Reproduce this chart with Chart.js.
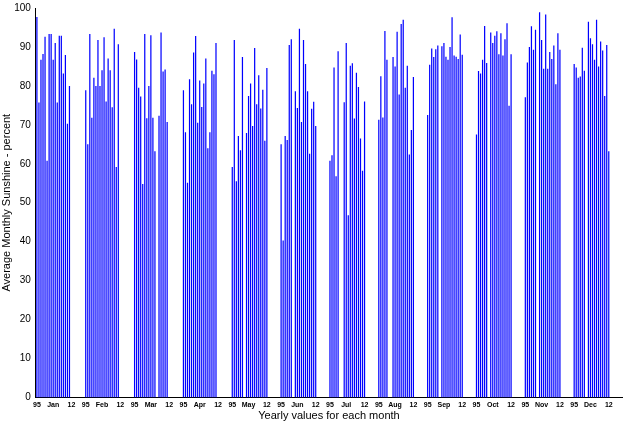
<!DOCTYPE html>
<html>
<head>
<meta charset="utf-8">
<script src="https://cdn.jsdelivr.net/npm/chart.js@4"></script>
<style>body{margin:0;background:#fff}</style>
</head>
<body>
<canvas id="c" width="632" height="423"></canvas>
<script>
const months = ['Jan','Feb','Mar','Apr','May','Jun','Jul','Aug','Sep','Oct','Nov','Dec']
const firstYear = '95'
const lastYear = '12'
// sunshine percent per month, years 1995..2012 (null = no value)
const jan = [97.7,75.7,86.7,88.2,92.6,60.8,93.3,93.3,86.7,91,75.7,92.9,92.9,83.2,87.9,70.3,80,null]
const feb = [78.9,65,93.3,71.8,82.1,80,91.8,80,84,92.5,76,87,84,74.5,94.7,59.2,90.7,null]
const mar = [88.7,86.8,79.5,77.3,54.8,93.3,71.7,80,93,71.8,63.2,null,72.3,93.7,83.7,84.2,70.7,null]
const apr = [78.9,68.1,55.1,81.7,75.3,88.6,92.8,70.5,81.4,74.6,80.6,87,64,68.1,83.9,83,91,null]
const may = [59.2,91.8,55.5,67.1,63.5,87.4,null,67.9,77.4,80.6,69.7,89.7,75.3,82.7,74.2,79,65.9,84.6]
const jun = [65,40.3,67.1,66.1,90.5,92,null,78.6,74.3,94.7,70.7,91.8,85.6,78.6,62.6,74.1,75.9,69.7]
const jul = [60.8,62.2,84.7,56.8,88.9,null,null,75.8,91,46.8,85.2,85.8,71.6,83.4,79.7,66.5,58.2,76]
const aug = [71.3,82.5,71.9,94.1,86.7,null,null,87.4,85,93.9,77.8,95.9,97,79.5,85.2,62.4,68.7,82.3]
const sep = [72.5,85.4,89.6,87.4,89.4,90.4,null,90.2,91,87.5,86.7,90,97.6,87.8,87.5,86.9,93.2,88]
const oct = [67.5,83.8,83.2,86.7,95.4,85.9,null,93.7,91,92.9,94,88.1,93.5,87.8,92,96.1,74.9,88.1]
const nov = [77.1,86,90,95.3,89.3,94.4,null,98.9,91.8,84.4,98.3,84.4,88.7,86.9,90.4,80.4,93.5,89.3]
const dec = [85.6,84.7,82.1,82.4,89.8,83.9,null,96.5,92.2,90.7,86.7,97,85,91.4,89.1,77.4,90.5,63.2]
const yTicks = [0,10,20,30,40,50,60,70,80,90,100]

const series = [jan,feb,mar,apr,may,jun,jul,aug,sep,oct,nov,dec]
const slotsPerMonth = 24
let labels = []
let values = []
series.forEach((vals, m) => {
    for (let s = 0; s < slotsPerMonth; s++) {
        let lab = ''
        if (s == 0) lab = firstYear
        else if (s == 8) lab = months[m]
        else if (s == 17) lab = lastYear
        labels.push(lab)
        values.push(s < vals.length ? vals[s] : null)
    }
})

Chart.defaults.font.family = 'Liberation Sans, Arial, sans-serif'
new Chart(document.getElementById('c'), {
    type: 'bar',
    data: {
        labels: labels,
        datasets: [{
            data: values,
            backgroundColor: '#0000ff',
            borderWidth: 0,
            barPercentage: 0.6,
            categoryPercentage: 1
        }]
    },
    options: {
        responsive: false,
        animation: false,
        layout: { padding: { left: 0, right: 10, top: 8, bottom: 0 } },
        plugins: { legend: { display: false }, tooltip: { enabled: false } },
        scales: {
            x: {
                grid: { display: false, drawTicks: true, tickLength: 3 },
                border: { color: '#000' },
                ticks: {
                    autoSkip: false, maxRotation: 0, minRotation: 0, padding: 0,
                    color: '#000', font: { size: 7, weight: 'bold' }
                },
                title: { display: true, text: 'Yearly values for each month', color: '#000', font: { size: 11 }, padding: { top: 1, bottom: 0 } }
            },
            y: {
                min: 0, max: 100,
                afterBuildTicks: axis => { axis.ticks = yTicks.map(v => ({ value: v })) },
                grid: { display: false, tickLength: 4 },
                border: { color: '#000' },
                ticks: { color: '#000', font: { size: 10 }, padding: 1 },
                title: { display: true, text: 'Average Monthly Sunshine - percent', color: '#000', font: { size: 11 }, padding: 0 }
            }
        }
    }
})
</script>
</body>
</html>
